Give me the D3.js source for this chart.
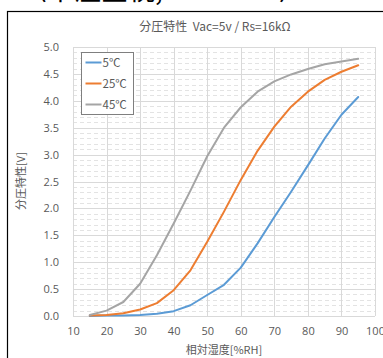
<!DOCTYPE html>
<html>
<head>
<meta charset="utf-8">
<script src="https://cdn.jsdelivr.net/npm/d3@7"></script>
<style>
  body { margin: 0; background: #fff; }
  svg { display: block; font-family: "Noto Sans CJK JP", "Noto Sans", sans-serif; }
</style>
</head>
<body>
<svg id="chart" width="383" height="358"></svg>
<script>
const humidity = [15, 20, 25, 30, 35, 40, 45, 50, 55, 60, 65, 70, 75, 80, 85, 90, 95];
const v5 = [0.0, 0.01, 0.01, 0.02, 0.04, 0.09, 0.2, 0.39, 0.58, 0.9, 1.35, 1.84, 2.31, 2.8, 3.3, 3.74, 4.07];
const v25 = [0.01, 0.02, 0.05, 0.12, 0.24, 0.48, 0.85, 1.38, 1.94, 2.53, 3.07, 3.52, 3.89, 4.17, 4.39, 4.54, 4.66];
const v45 = [0.02, 0.1, 0.26, 0.6, 1.13, 1.72, 2.33, 2.97, 3.5, 3.88, 4.17, 4.36, 4.49, 4.59, 4.68, 4.73, 4.78];
const seriesNames = ['5℃', '25℃', '45℃'];
const seriesColors = ['#5b9bd5', '#ed7d31', '#a5a5a5'];
const xTicks = [10, 20, 30, 40, 50, 60, 70, 80, 90, 100];
const yTicks = [0, 0.5, 1, 1.5, 2, 2.5, 3, 3.5, 4, 4.5, 5];

const width = 383;
const height = 358;
const margin = { top: 47, right: 8, bottom: 42, left: 73 };

const svg = d3.select('#chart');

// header text cut off at the top of the screenshot
svg.append('text')
  .attr('x', 20)
  .attr('y', 0)
  .attr('font-size', 27)
  .attr('fill', '#000')
  .text('〈中湿全視, Rs=16kΩ〉');

// outer frame
svg.append('rect')
  .attr('x', 7.5)
  .attr('y', 11.5)
  .attr('width', 400)
  .attr('height', 400)
  .attr('fill', 'none')
  .attr('stroke', '#000')
  .attr('stroke-width', 1.2);

const x = d3.scaleLinear().domain([10, 100]).range([margin.left, width - margin.right]);
const y = d3.scaleLinear().domain([0, 5]).range([height - margin.bottom, margin.top]);

// minor dashed grid
const minor = d3.range(0.1, 5, 0.1).filter((d) => Math.abs(d * 2 - Math.round(d * 2)) > 0.01);
svg.append('g')
  .selectAll('line')
  .data(minor)
  .join('line')
  .attr('x1', x(10))
  .attr('x2', x(100))
  .attr('y1', (d) => Math.round(y(d)) + 0.5)
  .attr('y2', (d) => Math.round(y(d)) + 0.5)
  .attr('stroke', '#e3e3e3')
  .attr('stroke-dasharray', '4,3');

// major grid
svg.append('g')
  .selectAll('line')
  .data(yTicks)
  .join('line')
  .attr('x1', x(10))
  .attr('x2', x(100))
  .attr('y1', (d) => Math.round(y(d)) + 0.5)
  .attr('y2', (d) => Math.round(y(d)) + 0.5)
  .attr('stroke', '#d9d9d9');

svg.append('g')
  .selectAll('line')
  .data(xTicks)
  .join('line')
  .attr('x1', (d) => Math.round(x(d)) + 0.5)
  .attr('x2', (d) => Math.round(x(d)) + 0.5)
  .attr('y1', y(0))
  .attr('y2', y(5))
  .attr('stroke', '#d9d9d9');

// axes
svg.append('g')
  .attr('transform', `translate(${margin.left},0)`)
  .call(d3.axisLeft(y).tickValues(yTicks).tickSize(0).tickPadding(14).tickFormat(d3.format('.1f')))
  .call((g) => g.select('.domain').remove())
  .call((g) => g.selectAll('text').attr('fill', '#595959').attr('font-size', 11).attr('font-family', '"Open Sans", sans-serif'));

svg.append('g')
  .attr('transform', `translate(0,${height - margin.bottom})`)
  .call(d3.axisBottom(x).tickValues(xTicks).tickSize(0).tickPadding(11))
  .call((g) => g.select('.domain').remove())
  .call((g) => g.selectAll('text').attr('fill', '#595959').attr('font-size', 11).attr('font-family', '"Open Sans", sans-serif'));

// lines
const allSeries = [v5, v25, v45];
const line = d3.line()
  .x((d, i) => x(humidity[i]))
  .y((d) => y(d));

svg.append('g')
  .selectAll('path')
  .data(allSeries)
  .join('path')
  .attr('d', line)
  .attr('fill', 'none')
  .attr('stroke', (d, i) => seriesColors[i])
  .attr('stroke-width', 2)
  .attr('stroke-linejoin', 'round')
  .attr('stroke-linecap', 'round');

// title
svg.append('text')
  .attr('x', 215)
  .attr('y', 31)
  .attr('text-anchor', 'middle')
  .attr('fill', '#595959')
  .attr('font-size', 12)
  .text('分圧特性\u00a0\u00a0Vac=5v / Rs=16kΩ');

// axis titles
svg.append('text')
  .attr('transform', 'translate(25,181) rotate(-90)')
  .attr('text-anchor', 'middle')
  .attr('fill', '#595959')
  .attr('font-size', 11)
  .text('分圧特性[V]');

svg.append('text')
  .attr('x', 224)
  .attr('y', 354)
  .attr('text-anchor', 'middle')
  .attr('fill', '#595959')
  .attr('font-size', 11)
  .text('相対湿度[%RH]');

// legend
const legend = svg.append('g').attr('transform', 'translate(81.5,52.5)');
legend.append('rect')
  .attr('width', 52)
  .attr('height', 62)
  .attr('fill', '#fff')
  .attr('stroke', '#7f7f7f');
const items = legend.selectAll('g.item')
  .data(seriesNames)
  .join('g')
  .attr('class', 'item')
  .attr('transform', (d, i) => `translate(0,${10 + i * 21})`);
items.append('line')
  .attr('x1', 4)
  .attr('x2', 20)
  .attr('stroke', (d, i) => seriesColors[i])
  .attr('stroke-width', 2);
items.append('text')
  .attr('x', 21)
  .attr('y', 4)
  .attr('fill', '#595959')
  .attr('font-size', 11.5)
  .text((d) => d);
</script>
</body>
</html>
